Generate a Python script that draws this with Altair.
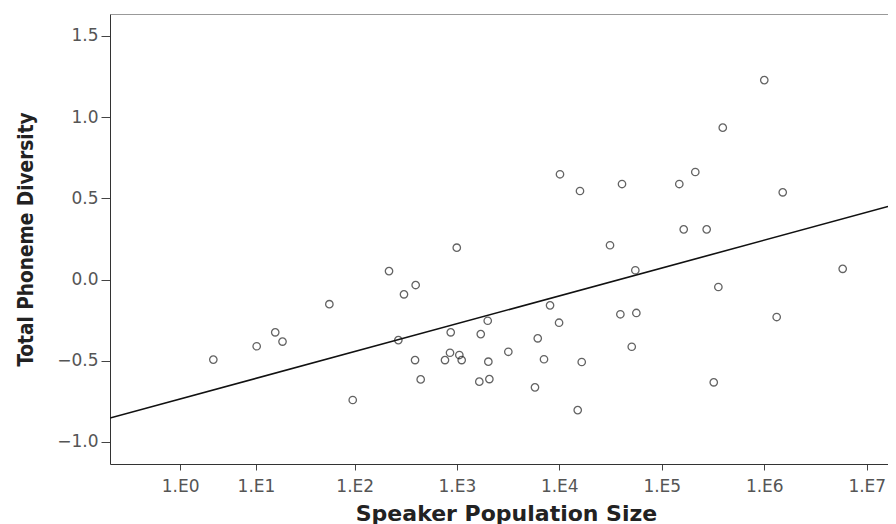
import math
import altair as alt
import pandas as pd

# x = log10(speaker population + 1); y = total phoneme diversity
log_pop = [0.625, 1.048, 1.229, 1.300, 1.757, 1.985, 2.339, 2.485, 2.599, 2.430,
           2.593, 2.648, 3.000, 2.941, 2.934, 2.885, 3.025, 3.048, 3.302, 3.234,
           3.308, 3.220, 3.318, 3.503, 3.790, 3.851, 3.763, 3.910, 3.998, 4.007,
           4.180, 4.202, 4.219, 4.495, 4.612, 4.596, 4.707, 4.742, 4.752, 5.171,
           5.214, 5.327, 5.438, 5.507, 5.552, 5.595, 6.000, 6.121, 6.180, 6.765]
diversity = [-0.493, -0.411, -0.325, -0.382, -0.152, -0.742, 0.052, -0.091, -0.034, -0.373,
             -0.496, -0.615, 0.196, -0.325, -0.451, -0.496, -0.465, -0.496, -0.254, -0.336,
             -0.506, -0.629, -0.613, -0.445, -0.362, -0.491, -0.664, -0.159, -0.266, 0.648,
             -0.804, 0.545, -0.508, 0.211, 0.588, -0.214, -0.414, 0.057, -0.206, 0.588,
             0.309, 0.662, 0.309, -0.633, -0.046, 0.935, 1.228, -0.231, 0.537, 0.066]

exponents = [0, 1, 2, 3, 4, 5, 6, 7]
x_ticks = [math.log10(10 ** k + 1) for k in exponents]
y_ticks = [-1.0, -0.5, 0.0, 0.5, 1.0, 1.5]
x_domain = [-0.383, 7.207]
y_domain = [-1.136, 1.635]

df = pd.DataFrame({"log_pop": log_pop, "diversity": diversity})

x_scale = alt.Scale(domain=x_domain, nice=False, zero=False)
y_scale = alt.Scale(domain=y_domain, nice=False, zero=False)

x_enc = alt.X(
    "log_pop:Q",
    scale=x_scale,
    axis=alt.Axis(
        values=x_ticks,
        labelExpr="'1.E' + round(log(pow(10, datum.value) - 1) / LN10)",
        title="Speaker Population Size",
        grid=False,
        tickSize=6,
        labelPadding=21,
        labelBaseline="alphabetic",
        labelFont="DejaVu Sans",
        labelFontSize=17,
        labelColor="#555",
        tickColor="#444",
        domainColor="#333",
        titleFont="DejaVu Sans",
        titleFontSize=22,
        titleFontWeight="bold",
        titleColor="#222",
        titleBaseline="alphabetic",
        titleX=396,
        titleY=56,
    ),
)
y_enc = alt.Y(
    "diversity:Q",
    scale=y_scale,
    axis=alt.Axis(
        values=y_ticks,
        format=".1f",
        title="Total Phoneme Diversity",
        grid=False,
        tickSize=9,
        labelPadding=3,
        labelFont="DejaVu Sans",
        labelFontSize=17,
        labelColor="#555",
        tickColor="#444",
        domainColor="#333",
        titleFont="DejaVu Sans Condensed, DejaVu Sans",
        titleFontSize=20.6,
        titleFontWeight="bold",
        titleColor="#222",
        titleX=-74,
        titleY=225,
    ),
)

base = alt.Chart(df)
points = base.mark_point(shape="circle", filled=False, size=55, stroke="#222",
                         strokeWidth=1.3).encode(x=x_enc, y=y_enc)
line = base.transform_regression("log_pop", "diversity", extent=x_domain).mark_line(
    color="#111", strokeWidth=1.6, clip=True).encode(
    x=alt.X("log_pop:Q", scale=x_scale,
            axis=alt.Axis(orient="top", labels=False, ticks=False, title=None,
                          grid=False, domainColor="#999", domainWidth=1.2)),
    y=alt.Y("diversity:Q", scale=y_scale),
)

chart = alt.layer(points, line).resolve_axis(x="independent").properties(
    width=778,
    height=450,
    autosize=alt.AutoSizeParams(type="none"),
    padding={"left": 102, "top": 6, "right": 0, "bottom": 60},
).configure_view(stroke=None)

chart.save("out.html", embed_options={"renderer": "svg", "actions": False})
